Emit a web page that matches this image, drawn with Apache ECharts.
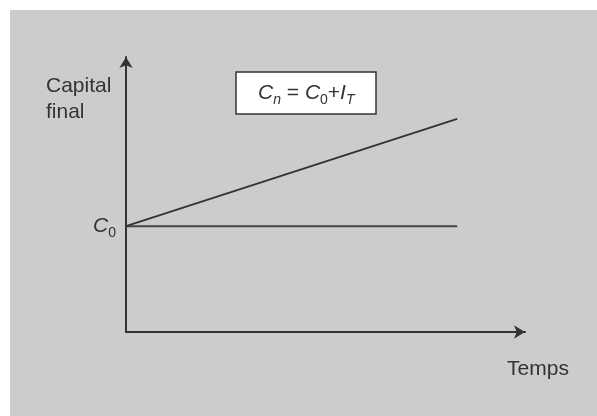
<!DOCTYPE html>
<html>
<head>
<meta charset="utf-8">
<script src="https://cdn.jsdelivr.net/npm/echarts@6/dist/echarts.min.js"></script>
<style>
  html, body { margin: 0; padding: 0; background: #ffffff; }
  #chart { position: absolute; left: 10px; top: 10px; width: 587px; height: 406px; }
</style>
</head>
<body>
<div id="chart"></div>
<script>
// time positions (arbitrary units, axis goes 0..100)
const tempsX = [0, 83];
// capital levels
const capitalBase = [38.5, 38.5];
const capitalFinal = [38.5, 77.5];
const axisNames = { y: ["Capital", "final"], x: "Temps" };

const font = "'Liberation Sans', Arial, sans-serif";
const ink = "#333333";

const chart = echarts.init(document.getElementById("chart"));
chart.setOption({
  backgroundColor: "#cccccc",
  animation: false,
  title: {
    text: "{i|C}{sn|n}{t| = }{i|C}{s|0}{t|+}{i|I}{sn|T}",
    left: 226,
    top: 63,
    backgroundColor: "#ffffff",
    borderColor: "#333333",
    borderWidth: 1.5,
    padding: [7, 22, 7, 22],
    textStyle: {
      fontWeight: "normal",
      rich: {
        i: { fontFamily: font, fontStyle: "italic", fontWeight: "normal", fontSize: 21, color: ink, lineHeight: 26 },
        t: { fontFamily: font, fontWeight: "normal", fontSize: 21, color: ink, lineHeight: 26 },
        sn: { fontFamily: font, fontStyle: "italic", fontWeight: "normal", fontSize: 14, color: ink, lineHeight: 26, padding: [14, 0, 0, 0] },
        s: { fontFamily: font, fontWeight: "normal", fontSize: 14, color: ink, lineHeight: 26, padding: [14, 0, 0, 0] }
      }
    }
  },
  grid: { left: 116, top: 47, right: 72, bottom: 84 },
  xAxis: {
    type: "value",
    min: 0,
    max: 100,
    name: axisNames.x,
    nameLocation: "end",
    nameGap: 13,
    nameTextStyle: {
      fontFamily: font, fontSize: 21, color: ink,
      align: "center", verticalAlign: "top", padding: [27, 0, 0, 0]
    },
    axisLine: {
      show: true,
      symbol: ["none", "arrow"],
      symbolSize: [10, 11],
      lineStyle: { color: ink, width: 2 }
    },
    axisTick: { show: false },
    axisLabel: { show: false },
    splitLine: { show: false }
  },
  yAxis: {
    type: "value",
    min: 0,
    max: 100,
    name: axisNames.y.map(s => "{a|" + s + "}").join("\n"),
    nameLocation: "end",
    nameGap: -16,
    nameTextStyle: {
      align: "right", verticalAlign: "top", padding: [0, 13, 0, 0],
      rich: {
        a: { fontFamily: font, fontSize: 21, color: ink, lineHeight: 26, width: 67, align: "left" }
      }
    },
    axisLine: {
      show: true,
      symbol: ["none", "arrow"],
      symbolSize: [10, 11],
      lineStyle: { color: ink, width: 2 }
    },
    axisTick: { show: false },
    axisLabel: { show: false },
    splitLine: { show: false }
  },
  series: [
    {
      type: "line",
      data: tempsX.map((x, i) => [x, capitalBase[i]]),
      showSymbol: false,
      symbol: "none",
      lineStyle: { color: "#444444", width: 2 },
      markPoint: {
        symbol: "circle",
        symbolSize: 0,
        data: [{ coord: [tempsX[0], capitalBase[0]] }],
        label: {
          show: true,
          position: "left",
          distance: 10,
          formatter: "{i|C}{s|0}",
          rich: {
            i: { fontFamily: font, fontStyle: "italic", fontSize: 21, color: ink, lineHeight: 26 },
            s: { fontFamily: font, fontSize: 14, color: ink, lineHeight: 26, padding: [14, 0, 0, 0] }
          }
        }
      }
    },
    {
      type: "line",
      data: tempsX.map((x, i) => [x, capitalFinal[i]]),
      showSymbol: false,
      symbol: "none",
      lineStyle: { color: ink, width: 1.8 }
    }
  ]
});
</script>
</body>
</html>
